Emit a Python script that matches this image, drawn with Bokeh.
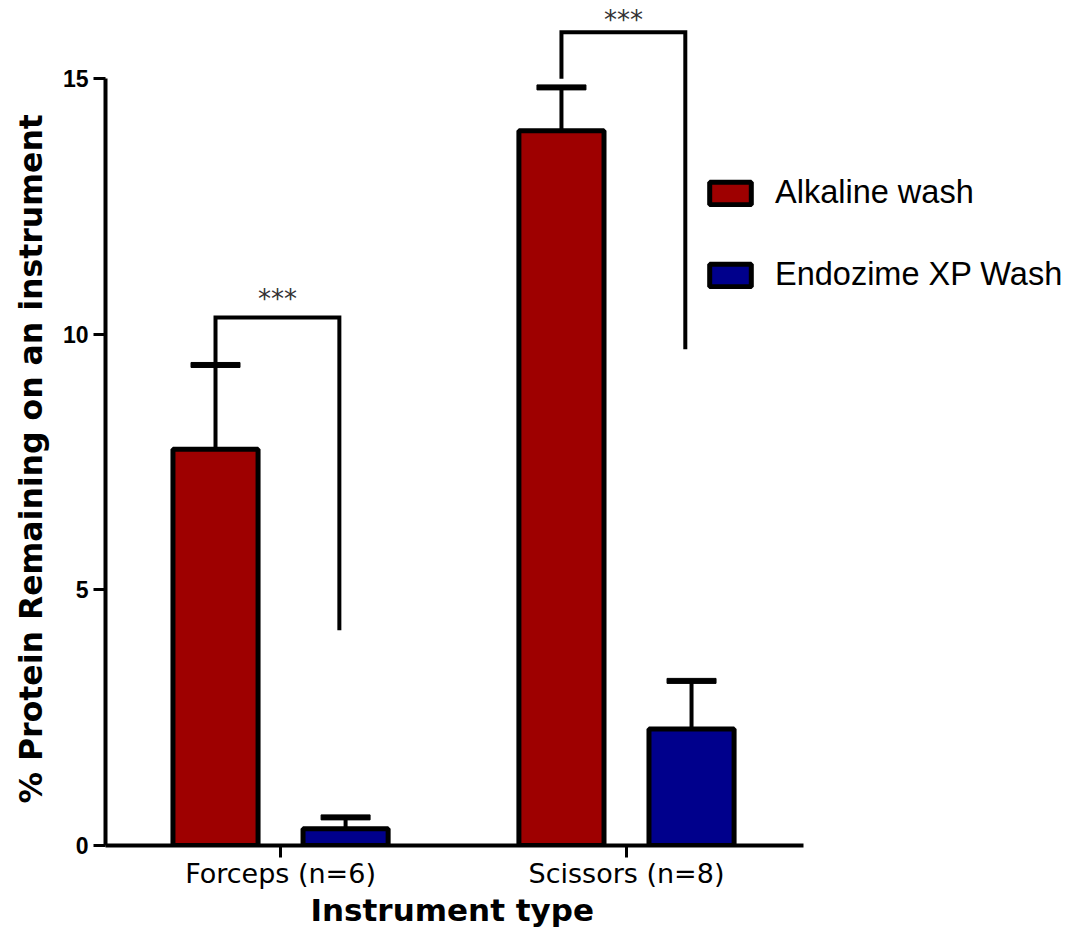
from bokeh.plotting import figure
from bokeh.models import Range1d, FixedTicker, Legend, LegendItem, Title
from bokeh.core.properties import value
from bokeh.embed import file_html
from bokeh.resources import INLINE

# ---- data ----
categories = ["Forceps (n=6)", "Scissors (n=8)"]
series = ["Alkaline wash", "Endozime XP Wash"]
alkaline_mean = [7.75, 13.98]
alkaline_sem = [1.65, 0.85]
endozime_mean = [0.33, 2.28]
endozime_sem = [0.22, 0.94]
y_ticks = [0, 5, 10, 15]
sig_labels = ["***", "***"]
bracket_top = [10.33, 15.91]
bracket_left_bottom = [9.40, 15.0]
bracket_right_bottom = [4.21, 9.71]
sig_y = [10.99, 16.45]

# ---- styles ----
RED = "#9E0000"
BLUE = "#00008C"
cat_x = [i + 1 for i in range(len(categories))]
off = 0.188
bw = 0.246

p = figure(width=1065, height=929,
           x_range=Range1d(0.494, 3.269), y_range=Range1d(0, 16.53),
           output_backend="svg", toolbar_location=None,
           min_border_left=105, min_border_right=0,
           min_border_top=0, min_border_bottom=81)
p.outline_line_color = None
p.xgrid.visible = False
p.ygrid.visible = False
p.background_fill_color = "white"

xa = [x - off for x in cat_x]
xb = [x + off for x in cat_x]

r1 = p.vbar(x=xa, top=alkaline_mean, bottom=0, width=bw,
            fill_color=RED, line_color="black", line_width=5)
r2 = p.vbar(x=xb, top=endozime_mean, bottom=0, width=bw,
            fill_color=BLUE, line_color="black", line_width=5)

# error bars (upper only)
for xs, m, s in [(xa, alkaline_mean, alkaline_sem), (xb, endozime_mean, endozime_sem)]:
    up = [a + b for a, b in zip(m, s)]
    p.segment(x0=xs, y0=m, x1=xs, y1=up, line_color="black", line_width=4)
    p.rect(x=xs, y=up, width=49, height=5, width_units="screen",
           height_units="screen", fill_color="black", line_color="black",
           line_width=1)

# significance brackets
br_l = [x - off for x in cat_x]
br_r = [x + 0.17 for x in cat_x]
xs_ml = [[l, l, r, r] for l, r in zip(br_l, br_r)]
ys_ml = [[lb, t, t, rb] for lb, t, rb in zip(bracket_left_bottom, bracket_top, bracket_right_bottom)]
p.multi_line(xs=xs_ml, ys=ys_ml, line_color="black", line_width=4, line_join="miter")
p.text(x=[(l + r) / 2 for l, r in zip(br_l, br_r)], y=sig_y, text=sig_labels,
       text_align="center", text_baseline="top",
       text_font=value("DejaVu Sans"), text_font_size="26px", text_color="#333333")

# axes
ya = p.yaxis[0]
ya.bounds = (0, 15)
ya.ticker = FixedTicker(ticks=y_ticks)
ya.minor_tick_line_color = None
ya.major_tick_in = 0
ya.major_tick_out = 12
ya.major_tick_line_width = 3
ya.major_tick_line_color = "black"
ya.axis_line_width = 4
ya.axis_line_color = "black"
ya.major_label_text_font = "Liberation Sans"
ya.major_label_text_font_style = "bold"
ya.major_label_text_font_size = "23px"
ya.major_label_text_color = "black"
ya.major_label_standoff = 5

p.add_layout(Title(text="% Protein Remaining on an instrument", align="left",
                   vertical_align="middle", offset=42, standoff=20,
                   text_font="DejaVu Sans", text_font_style="bold",
                   text_font_size="31.5px", text_color="black"), "left")

xax = p.xaxis[0]
xax.bounds = (0.494, 2.512)
xax.ticker = FixedTicker(ticks=cat_x)
xax.major_label_overrides = {x: c for x, c in zip(cat_x, categories)}
xax.minor_tick_line_color = None
xax.major_tick_in = 0
xax.major_tick_out = 12
xax.major_tick_line_width = 3
xax.major_tick_line_color = "black"
xax.axis_line_width = 4
xax.axis_line_color = "black"
xax.major_label_text_font = "DejaVu Sans"
xax.major_label_text_font_size = "27px"
xax.major_label_text_color = "black"
xax.major_label_standoff = 0

p.add_layout(Title(text="Instrument type", align="left", vertical_align="top",
                   offset=205, standoff=0, text_font="DejaVu Sans",
                   text_font_style="bold", text_font_size="31px",
                   text_color="black"), "below")

legend = Legend(items=[LegendItem(label=series[0], renderers=[r1]),
                       LegendItem(label=series[1], renderers=[r2])],
                location=(599, 552), orientation="vertical",
                glyph_width=52, glyph_height=28, label_standoff=19,
                spacing=45, padding=0, margin=0,
                border_line_alpha=0, background_fill_alpha=0,
                label_text_font="Liberation Sans", label_text_font_size="32.5px",
                label_text_color="black")
p.add_layout(legend)

open("out.html", "w").write(file_html(p, INLINE))
